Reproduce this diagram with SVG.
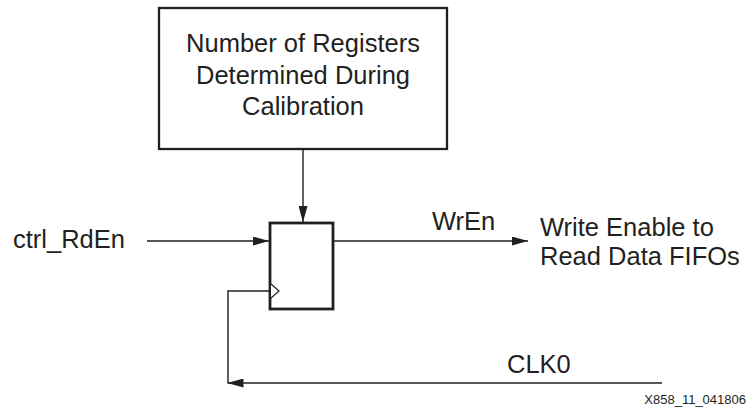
<svg xmlns="http://www.w3.org/2000/svg" width="750" height="415" viewBox="0 0 750 415">
  <style>
    .lbl { font-family: "Liberation Sans", Arial, Helvetica, sans-serif; font-size: 25.5px; fill: #231f20; }
    .tag { font-family: "Liberation Sans", Arial, Helvetica, sans-serif; font-size: 13px; fill: #231f20; }
    .box { fill: #ffffff; stroke: #231f20; stroke-width: 2.3; }
    .reg { fill: #ffffff; stroke: #231f20; stroke-width: 2.8; }
    .wire { fill: none; stroke: #231f20; stroke-width: 1.4; }
    .clk { fill: #ffffff; stroke: #231f20; stroke-width: 1.2; }
  </style>
  <defs>
    <marker id="arrow" viewBox="0 0 16 9" refX="16" refY="4.5" markerWidth="16" markerHeight="9" markerUnits="userSpaceOnUse" orient="auto">
      <path d="M0,0 L16,4.5 L0,9 Z" fill="#231f20"/>
    </marker>
  </defs>

  <rect width="750" height="415" fill="#ffffff"/>

  <!-- connectors -->
  <g id="connectors">
    <line class="wire" x1="303" y1="149" x2="303" y2="222" marker-end="url(#arrow)"/>
    <line class="wire" x1="147" y1="241" x2="269" y2="241" marker-end="url(#arrow)"/>
    <line class="wire" x1="333" y1="241" x2="528" y2="241" marker-end="url(#arrow)"/>
    <polyline class="wire" points="270,291 228,291 228,383"/>
    <line class="wire" x1="662" y1="383" x2="227.5" y2="383" marker-end="url(#arrow)"/>
  </g>

  <!-- calibration block -->
  <g id="calibration">
    <rect class="box" x="159" y="8" width="288" height="141"/>
    <text class="lbl" text-anchor="middle" x="303" y="52">Number of Registers</text>
    <text class="lbl" text-anchor="middle" x="303" y="84">Determined During</text>
    <text class="lbl" text-anchor="middle" x="303" y="115">Calibration</text>
  </g>

  <!-- register -->
  <g id="register">
    <rect class="reg" x="270" y="223" width="63" height="86"/>
    <polyline class="clk" points="271,284 279,291 271,298"/>
  </g>

  <!-- signal labels -->
  <g id="ctrl_RdEn">
    <text class="lbl" x="13" y="248">ctrl_RdEn</text>
  </g>
  <g id="WrEn">
    <text class="lbl" x="432" y="230">WrEn</text>
  </g>
  <g id="fifo_write_enable">
    <text class="lbl" x="540" y="236">Write Enable to</text>
    <text class="lbl" x="540" y="265">Read Data FIFOs</text>
  </g>
  <g id="CLK0">
    <text class="lbl" x="507" y="373">CLK0</text>
  </g>

  <text class="tag" x="746" y="404" text-anchor="end">X858_11_041806</text>
</svg>
